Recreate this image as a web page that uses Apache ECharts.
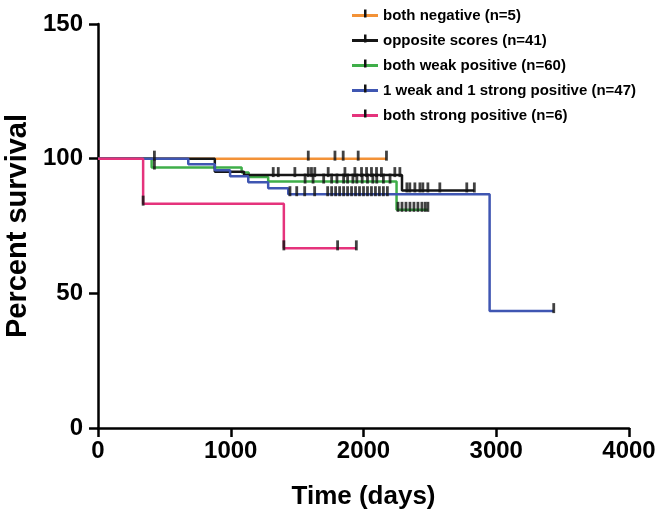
<!DOCTYPE html>
<html>
<head>
<meta charset="utf-8">
<script src="https://cdn.jsdelivr.net/npm/echarts@6/dist/echarts.min.js"></script>
<style>html,body{margin:0;padding:0;background:#fff}#c{width:658px;height:515px}</style>
</head>
<body>
<div id="c"></div>
<script>
// ---- data ----
const seriesNames = ['both negative (n=5)','opposite scores (n=41)','both weak positive (n=60)','1 weak and 1 strong positive (n=47)','both strong positive (n=6)'];
const xTicks = [0,1000,2000,3000,4000];
const yTicks = [0,50,100,150];

const negTimes = [0, 2173];
const negSurv = [100, 100];
const negCensT = [1584, 1785, 1847, 1960, 2173];
const negCensS = [100, 100, 100, 100, 100];

const oppTimes = [0, 880, 1100, 2290, 2835];
const oppSurv = [100, 95.1, 93.9, 88.2, 88.2];
const oppCensT = [425, 1320, 1358, 1483, 1584, 1608, 1633, 1734, 1860, 1935, 1985, 2023, 2060, 2098, 2135, 2236, 2274, 2327, 2349, 2387, 2425, 2447, 2485, 2575, 2778, 2835];
const oppCensS = [100, 93.9, 93.9, 93.9, 93.9, 93.9, 93.9, 93.9, 93.9, 93.9, 93.9, 93.9, 93.9, 93.9, 93.9, 93.9, 93.9, 88.2, 88.2, 88.2, 88.2, 88.2, 88.2, 88.2, 88.2, 88.2];

const weakTimes = [0, 404, 1082, 1135, 1282, 2249, 2485];
const weakSurv = [100, 96.7, 94.9, 93.2, 91.5, 81.0, 81.0];
const weakCensT = [425, 1560, 1620, 1700, 1760, 1800, 1850, 1880, 1920, 1950, 1990, 2030, 2070, 2100, 2150, 2200, 2260, 2290, 2320, 2350, 2380, 2410, 2440, 2465, 2485];
const weakCensS = [96.7, 91.5, 91.5, 91.5, 91.5, 91.5, 91.5, 91.5, 91.5, 91.5, 91.5, 91.5, 91.5, 91.5, 91.5, 91.5, 81.0, 81.0, 81.0, 81.0, 81.0, 81.0, 81.0, 81.0, 81.0];

const mixTimes = [0, 680, 880, 995, 1132, 1282, 1433, 2950, 3433];
const mixSurv = [100, 97.9, 95.7, 93.5, 91.2, 89.0, 86.8, 43.4, 43.4];
const mixCensT = [1446, 1497, 1557, 1632, 1730, 1760, 1790, 1820, 1850, 1880, 1910, 1940, 1970, 2000, 2030, 2060, 2090, 2120, 2150, 2180, 3433];
const mixCensS = [86.8, 86.8, 86.8, 86.8, 86.8, 86.8, 86.8, 86.8, 86.8, 86.8, 86.8, 86.8, 86.8, 86.8, 86.8, 86.8, 86.8, 86.8, 86.8, 86.8, 43.4];

const strongTimes = [0, 340, 1400, 1946];
const strongSurv = [100, 83.3, 66.7, 66.7];
const strongCensT = [340, 1400, 1805, 1946];
const strongCensS = [83.3, 66.7, 66.7, 66.7];

const colors = ['#f39237', '#161616', '#3fae49', '#3f56b2', '#e5337c'];

// ---- build ----
function pairs(t, s) { return t.map((v, i) => [v, s[i]]); }
const FONT = 'Liberation Sans, Arial, sans-serif';
const lineData = [pairs(negTimes,negSurv), pairs(oppTimes,oppSurv), pairs(weakTimes,weakSurv), pairs(mixTimes,mixSurv), pairs(strongTimes,strongSurv)];
const censData = [pairs(negCensT,negCensS), pairs(oppCensT,oppCensS), pairs(weakCensT,weakCensS), pairs(mixCensT,mixCensS), pairs(strongCensT,strongCensS)];
const zOrder = [1, 3, 2, 4, 5];

const series = [];
lineData.forEach((d, i) => {
  series.push({
    name: seriesNames[i], type: 'line', step: 'end', data: d,
    symbol: 'none', showSymbol: false, z: zOrder[i],
    lineStyle: { color: colors[i], width: 2.5 }, itemStyle: { color: colors[i] }
  });
});
censData.forEach((d, i) => {
  series.push({
    name: 'cens' + i, type: 'scatter', data: d, z: 10,
    symbol: 'rect', symbolSize: [2.8, 10], symbolOffset: [0, -3],
    itemStyle: { color: '#111' }
  });
});

const legendTop = 3, legendPad = 5, rowH = 25;
const graphic = seriesNames.map((n, i) => ({
  type: 'rect', left: 364, top: legendTop + legendPad + 7.5 + i * rowH - 6,
  shape: { width: 2.5, height: 8 }, style: { fill: '#111' }, z: 100
}));

const chart = echarts.init(document.getElementById('c'), null, { renderer: 'canvas' });
chart.setOption({
  animation: false,
  backgroundColor: '#fff',
  grid: { left: 98, right: 29, top: 24, bottom: 87, containLabel: false, outerBoundsMode: 'none' },
  xAxis: {
    type: 'value', min: xTicks[0], max: xTicks[xTicks.length - 1], interval: 1000,
    name: 'Time (days)', nameLocation: 'middle', nameGap: 56,
    nameTextStyle: { fontFamily: FONT, fontWeight: 'bold', fontSize: 26, color: '#000' },
    axisLine: { lineStyle: { color: '#000', width: 2.5 } },
    axisTick: { length: 9, lineStyle: { color: '#000', width: 2.5 } },
    axisLabel: { fontFamily: FONT, fontWeight: 'bold', fontSize: 24, color: '#000', margin: 11, formatter: v => String(v) },
    splitLine: { show: false }
  },
  yAxis: {
    type: 'value', min: yTicks[0], max: yTicks[yTicks.length - 1], interval: 50,
    name: 'Percent survival', nameLocation: 'middle', nameGap: 64,
    nameTextStyle: { fontFamily: FONT, fontWeight: 'bold', fontSize: 29, color: '#000' },
    axisLine: { show: true, lineStyle: { color: '#000', width: 2.5 } },
    axisTick: { show: true, length: 9, lineStyle: { color: '#000', width: 2.5 } },
    axisLabel: { fontFamily: FONT, fontWeight: 'bold', fontSize: 24, color: '#000', margin: 15, formatter: v => String(v) },
    splitLine: { show: false }
  },
  legend: {
    data: seriesNames, orient: 'vertical', left: 347, top: legendTop, padding: legendPad,
    itemWidth: 26, itemHeight: 3, itemGap: 10, icon: 'rect',
    textStyle: { fontFamily: FONT, fontWeight: 'bold', fontSize: 15, lineHeight: 15, color: '#000', padding: [0, 0, 0, 0] },
    selectedMode: false
  },
  graphic: graphic,
  series: series
});
</script>
</body>
</html>
